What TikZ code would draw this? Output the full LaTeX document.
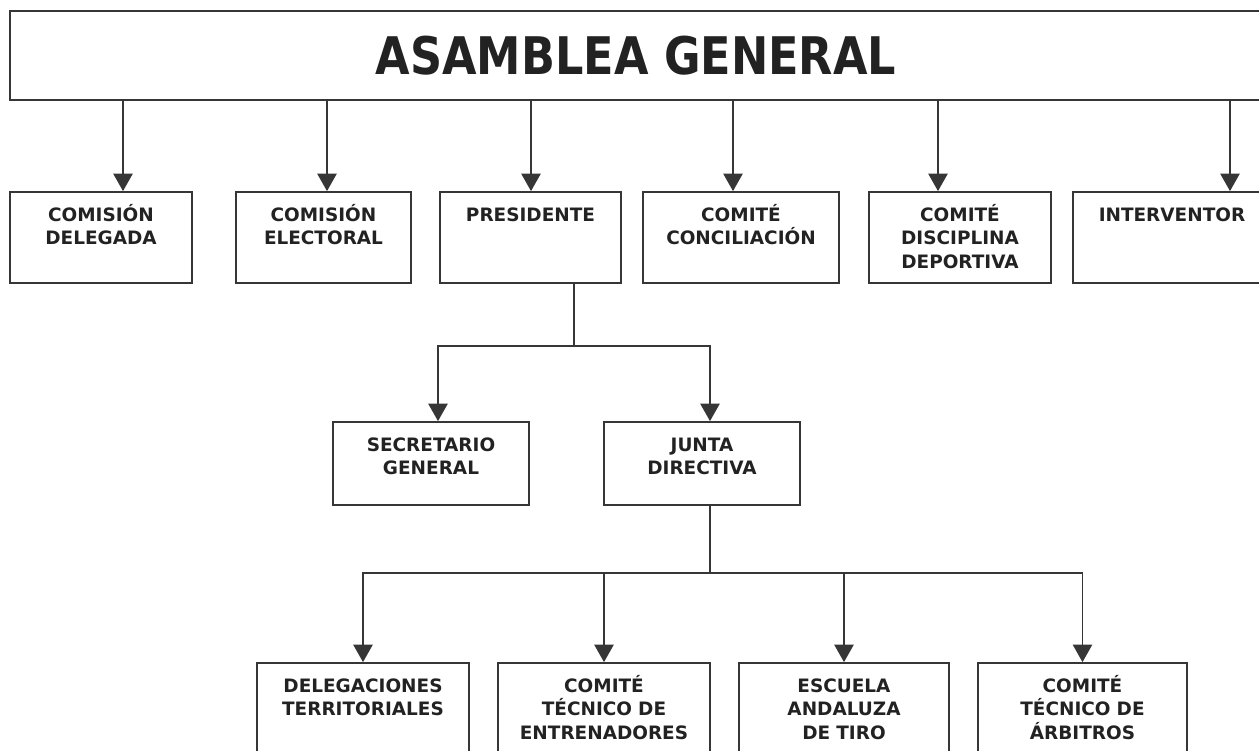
\documentclass[tikz,border=0pt]{standalone}
\usepackage{fontspec}
\setmainfont{DejaVu Sans}
\usepackage{graphicx}
\usetikzlibrary{arrows.meta}
\definecolor{ink}{HTML}{222222}
\definecolor{rule}{HTML}{363636}

\begin{document}
\begin{tikzpicture}[x=0.02cm,y=-0.02cm,
  unit/.style={draw=rule,line width=1pt,inner sep=0pt},
  lbl/.style={anchor=base,text width=4.4cm,align=center,inner sep=0pt,text=ink,
    font=\bfseries\fontsize{10.5}{13.6}\selectfont},
  link/.style={draw=rule,line width=1pt},
  arr/.style={link,-{Triangle[width=11pt,length=10pt]}}]
\clip (0,0) rectangle (1259,751);
\fill[white] (0,0) rectangle (1259,751);
\node[unit,minimum width=25.04cm,minimum height=1.78cm,text=ink,
  font=\bfseries\fontsize{29.5}{30}\selectfont] (asamblea) at (636,55.5)
  {\scalebox{0.86}[1]{ASAMBLEA GENERAL}};
\node[unit,minimum width=3.64cm,minimum height=1.82cm] (delegada) at (101,237.5) {};
\node[unit,minimum width=3.5cm,minimum height=1.82cm] (electoral) at (323.5,237.5) {};
\node[unit,minimum width=3.62cm,minimum height=1.82cm] (presidente) at (530.5,237.5) {};
\node[unit,minimum width=3.92cm,minimum height=1.82cm] (conciliacion) at (741,237.5) {};
\node[unit,minimum width=3.64cm,minimum height=1.82cm] (disciplina) at (960,237.5) {};
\node[unit,minimum width=3.96cm,minimum height=1.82cm] (interventor) at (1172,237.5) {};
\node[lbl] (delegada-t) at ([yshift=-17pt]delegada.north) {COMISIÓN\\DELEGADA};
\node[lbl] (electoral-t) at ([yshift=-17pt]electoral.north) {COMISIÓN\\ELECTORAL};
\node[lbl] (presidente-t) at ([yshift=-17pt]presidente.north) {PRESIDENTE};
\node[lbl] (conciliacion-t) at ([yshift=-17pt]conciliacion.north) {COMITÉ\\CONCILIACIÓN};
\node[lbl] (disciplina-t) at ([yshift=-17pt]disciplina.north) {COMITÉ\\DISCIPLINA\\DEPORTIVA};
\node[lbl] (interventor-t) at ([yshift=-17pt]interventor.north) {INTERVENTOR};
\node[unit,minimum width=3.92cm,minimum height=1.66cm] (secretario) at (431,463.5) {};
\node[unit,minimum width=3.92cm,minimum height=1.66cm] (junta) at (702,463.5) {};
\node[lbl] (secretario-t) at ([yshift=-17pt]secretario.north) {SECRETARIO\\GENERAL};
\node[lbl] (junta-t) at ([yshift=-17pt]junta.north) {JUNTA\\DIRECTIVA};
\node[unit,minimum width=4.24cm,minimum height=2.4cm] (delegaciones) at (363,723) {};
\node[unit,minimum width=4.24cm,minimum height=2.4cm] (entrenadores) at (604,723) {};
\node[unit,minimum width=4.2cm,minimum height=2.4cm] (escuela) at (844,723) {};
\node[unit,minimum width=4.18cm,minimum height=2.4cm] (arbitros) at (1082.5,723) {};
\node[lbl] (delegaciones-t) at ([yshift=-17pt]delegaciones.north) {DELEGACIONES\\TERRITORIALES};
\node[lbl] (entrenadores-t) at ([yshift=-17pt]entrenadores.north) {COMITÉ\\TÉCNICO DE\\ENTRENADORES};
\node[lbl] (escuela-t) at ([yshift=-17pt]escuela.north) {ESCUELA\\ANDALUZA\\DE TIRO};
\node[lbl] (arbitros-t) at ([yshift=-17pt]arbitros.north) {COMITÉ\\TÉCNICO DE\\ÁRBITROS};
\draw[arr] (asamblea.south -| 123,0) -- (delegada.north -| 123,0);
\draw[arr] (asamblea.south -| 327,0) -- (electoral.north -| 327,0);
\draw[arr] (asamblea.south -| 531,0) -- (presidente.north -| 531,0);
\draw[arr] (asamblea.south -| 733,0) -- (conciliacion.north -| 733,0);
\draw[arr] (asamblea.south -| 938,0) -- (disciplina.north -| 938,0);
\draw[arr] (asamblea.south -| 1230,0) -- (interventor.north -| 1230,0);
\coordinate (pj) at (574,346);
\draw[link] (presidente.south -| pj) -- (pj);
\draw[arr] (pj) -| (secretario.north -| 438,0);
\draw[arr] (pj) -| (junta.north -| 710,0);
\coordinate (jj) at (710,573);
\draw[link] (junta.south -| jj) -- (jj);
\draw[arr] (jj) -| (delegaciones.north);
\draw[arr] (jj) -| (entrenadores.north);
\draw[arr] (jj) -| (escuela.north);
\draw[arr] (jj) -| (arbitros.north);
\end{tikzpicture}
\end{document}
